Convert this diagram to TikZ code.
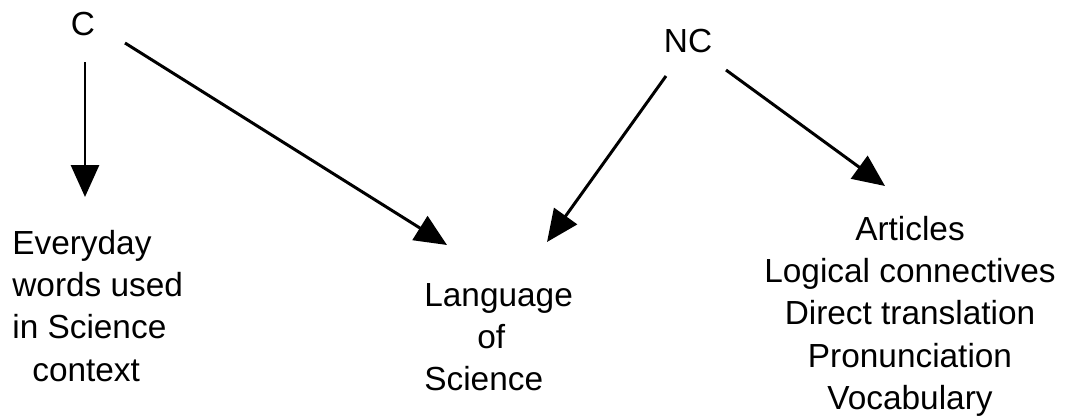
\documentclass[tikz,border=0pt]{standalone}
\usepackage{fontspec}
\setmainfont{Liberation Sans}
\usetikzlibrary{arrows.meta}
\begin{document}
\begin{tikzpicture}[x=0.02cm, y=-0.02cm,
    word/.style={inner sep=0pt, font=\fontsize{19}{24}\selectfont},
    block/.style={word, align=center, anchor=north},
    leftblock/.style={word, align=left, anchor=north west},
    arr/.style={line width=1.7pt, -{Triangle[length=0.64cm, width=0.56cm]}}]
            \useasboundingbox (0,0) rectangle (1067,419);
            \node[word, anchor=base] (c) at (83,35) {C};
            \node[word, anchor=base] (nc) at (688,52) {NC};
            \node[leftblock] (ev) at (12,230) {Everyday\\words used\\in Science\\\hspace*{0.4cm}context};
            \node[leftblock] (lang) at (424,283) {Language\\\hspace*{1.06cm}of\\Science};
            \node[block] (errs) at (910,216) {Articles\\Logical connectives\\Direct translation\\Pronunciation\\Vocabulary};
            \draw [arr] ([shift={(2,27)}]c.base) -- ([shift={(73,-33)}]ev.north west);
            \draw [arr] ([shift={(42,8)}]c.base) -- ([shift={(23,-38)}]lang.north west);
            \draw [arr] ([shift={(-22,24)}]nc.base) -- ([shift={(123,-41)}]lang.north west);
            \draw [arr] ([shift={(38,18)}]nc.base) -- ([shift={(-25,-30)}]errs.north);
        \end{tikzpicture}
\end{document}
